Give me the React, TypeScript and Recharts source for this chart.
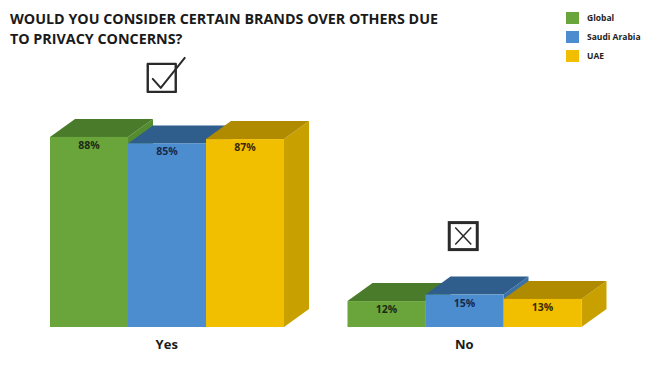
import { Bar, ComposedChart, LabelList, Legend, Line, XAxis, YAxis } from "recharts";

const CATEGORIES = ["Yes", "No"];
const GLOBAL = [88, 12];
const SAUDI_ARABIA = [85, 15];
const UAE = [87, 13];
const ICONS = ["check", "cross"];

const TITLE = ["WOULD YOU CONSIDER CERTAIN BRANDS OVER OTHERS DUE", "TO PRIVACY CONCERNS?"];

const SERIES = [
  { key: "global", name: "Global", front: "#6aa53c", top: "#4a7b2b", side: "#548c30", text: "#1c2a12" },
  { key: "saudi", name: "Saudi Arabia", front: "#4b8dcf", top: "#2f5e8d", side: "#3a72a8", text: "#16284a" },
  { key: "uae", name: "UAE", front: "#f2bf00", top: "#b08b00", side: "#c8a000", text: "#3a2b00" },
];

const FONT = "'Open Sans', 'DejaVu Sans', sans-serif";
const DX = 25;
const DY = 18;

const data = CATEGORIES.map((category, i) => ({
  category,
  global: GLOBAL[i],
  saudi: SAUDI_ARABIA[i],
  uae: UAE[i],
  iconAt: Math.max(GLOBAL[i], SAUDI_ARABIA[i], UAE[i]),
  icon: ICONS[i],
}));

function Box3D(props: any) {
  const { x, y, width: w, height: h, front, top, side } = props;
  if (w == null || h == null) return null;
  return (
    <g>
      <polygon
        points={`${x + w},${y} ${x + w + DX},${y - DY} ${x + w + DX},${y + h - DY} ${x + w},${y + h}`}
        fill={side}
      />
      <polygon points={`${x},${y} ${x + w},${y} ${x + w + DX},${y - DY} ${x + DX},${y - DY}`} fill={top} />
      <rect x={x} y={y} width={w} height={h} fill={front} />
    </g>
  );
}

function IconDot(props: any) {
  const { cx, cy, payload } = props;
  if (cx == null || cy == null) return null;
  const bottom = cy - 44;
  if (payload.icon === "check") {
    const x0 = cx - 19;
    const y0 = bottom - 29;
    return (
      <g fill="none" stroke="#2a2a2a" strokeLinecap="round" strokeLinejoin="round">
        <rect x={x0} y={y0} width={28} height={28} strokeWidth={2.4} />
        <path d={`M${x0 + 5},${y0 + 15} L${x0 + 13},${y0 + 24} L${x0 + 37},${y0 - 6}`} strokeWidth={2} />
      </g>
    );
  }
  const x0 = cx - 15;
  const y0 = bottom - 28;
  return (
    <g fill="none" stroke="#2a2a2a">
      <rect x={x0} y={y0} width={28} height={27} strokeWidth={3} />
      <path d={`M${x0 + 6},${y0 + 5} L${x0 + 22},${y0 + 22} M${x0 + 22},${y0 + 5} L${x0 + 6},${y0 + 22}`} strokeWidth={1.5} />
    </g>
  );
}

function ValueLabel(props: any) {
  const { x, y, width, value, color } = props;
  return (
    <text
      x={x + width / 2}
      y={y + 12}
      textAnchor="middle"
      fontFamily={FONT}
      fontWeight={700}
      fontSize={10.5}
      fill={color}
    >
      {value}%
    </text>
  );
}

function LegendBox() {
  return (
    <div style={{ fontFamily: FONT, fontWeight: 700, fontSize: 8.5, color: "#222" }}>
      {SERIES.map((s) => (
        <div key={s.key} style={{ display: "flex", alignItems: "center", height: 19 }}>
          <span style={{ width: 13, height: 12, background: s.front, marginRight: 8, display: "inline-block" }} />
          {s.name}
        </div>
      ))}
    </div>
  );
}

export default function App() {
  return (
    <div style={{ position: "absolute", left: 0, top: 0, width: 649, height: 372, background: "#fff" }}>
      <div
        style={{
          position: "absolute",
          left: 10,
          top: 9,
          fontFamily: FONT,
          fontWeight: 700,
          fontSize: 14.3,
          lineHeight: "19.5px",
          color: "#1a1a1a",
          zIndex: 2,
        }}
      >
        {TITLE.map((line) => (
          <div key={line}>{line}</div>
        ))}
      </div>
      <ComposedChart
        width={649}
        height={372}
        data={data}
        margin={{ top: 111, right: 36, bottom: 0, left: 18 }}
        barGap={0}
      >
        <XAxis
          dataKey="category"
          axisLine={false}
          tickLine={false}
          height={45}
          tick={{ fontFamily: FONT, fontWeight: 700, fontSize: 13, fill: "#1a1a1a" }}
          dy={5}
        />
        <YAxis hide domain={[0, 100]} />
        {SERIES.map((s) => (
          <Bar
            key={s.key}
            dataKey={s.key}
            name={s.name}
            barSize={78}
            isAnimationActive={false}
            shape={(p: any) => <Box3D {...p} front={s.front} top={s.top} side={s.side} />}
          >
            <LabelList dataKey={s.key} content={(p: any) => <ValueLabel {...p} color={s.text} />} />
          </Bar>
        ))}
        <Line
          dataKey="iconAt"
          stroke="none"
          isAnimationActive={false}
          legendType="none"
          dot={(p: any) => <IconDot key={p.index} {...p} />}
          activeDot={false}
        />
        <Legend
          layout="vertical"
          align="center"
          verticalAlign="middle"
          wrapperStyle={{ left: 566, top: 8, width: 80 }}
          content={() => <LegendBox />}
        />
      </ComposedChart>
    </div>
  );
}
